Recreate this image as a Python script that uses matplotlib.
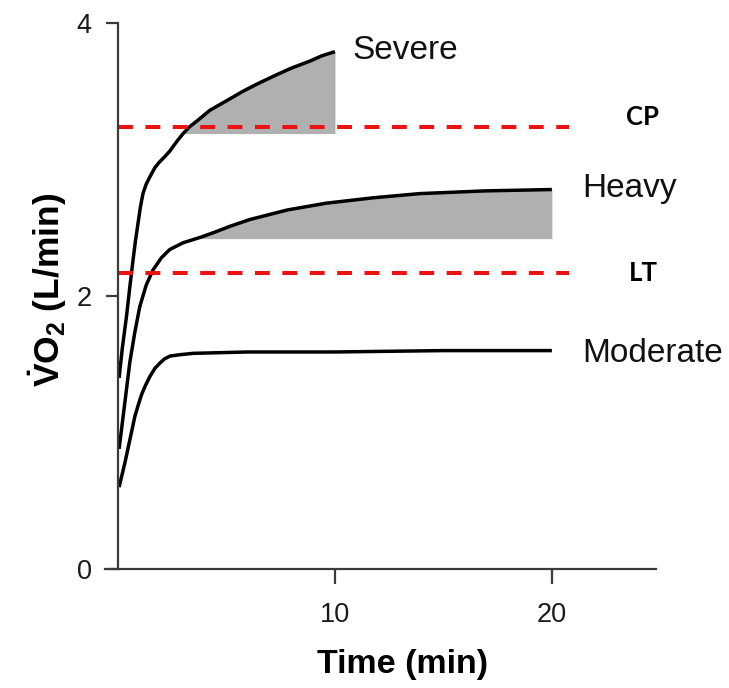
import numpy as np
import matplotlib
matplotlib.use("Agg")
import matplotlib.pyplot as plt

plt.rcParams['font.family'] = ['Liberation Sans', 'DejaVu Sans']
plt.rcParams['mathtext.fontset'] = 'custom'
plt.rcParams['mathtext.rm'] = 'Liberation Sans'
plt.rcParams['mathtext.bf'] = 'Liberation Sans:bold'

# VO2 responses (L/min) vs time (min) for the three intensity domains
moderate_t = [0.05, 0.2, 0.32, 0.55, 0.78, 0.93, 1.09, 1.28, 1.47, 1.7, 1.94, 2.15, 2.40,
              2.86, 3.47, 6.0, 10.0, 15.0, 20.0]
moderate_v = [0.60, 0.70, 0.78, 0.95, 1.12, 1.20, 1.28, 1.35, 1.41, 1.47, 1.51, 1.54, 1.56,
              1.57, 1.58, 1.59, 1.59, 1.60, 1.60]

heavy_t = [0.05, 0.3, 0.54, 0.77, 1.00, 1.3, 1.61, 2.0, 2.38, 3.00, 3.80, 4.5, 5.15, 6.07,
           7.80, 9.60, 11.8, 13.9, 16.9, 20.0]
heavy_v = [0.88, 1.20, 1.51, 1.73, 1.92, 2.08, 2.19, 2.28, 2.34, 2.39, 2.43, 2.47, 2.51, 2.56,
           2.63, 2.68, 2.72, 2.75, 2.77, 2.78]

severe_t = [0.05, 0.2, 0.39, 0.54, 0.69, 0.8, 0.92, 1.03, 1.15, 1.3, 1.46, 1.7, 1.90, 2.15,
            2.38, 2.7, 3.00, 3.30, 3.7, 4.23, 5.0, 5.76, 6.5, 7.30, 8.0, 8.83, 9.4, 10.0]
severe_v = [1.40, 1.62, 1.85, 2.06, 2.26, 2.40, 2.53, 2.65, 2.75, 2.82, 2.87, 2.94, 2.98, 3.02,
            3.06, 3.13, 3.19, 3.24, 3.29, 3.36, 3.43, 3.50, 3.56, 3.62, 3.67, 3.72, 3.76, 3.79]

# slow component shading: starts where curve reaches the base value
heavy_base = 2.42
heavy_start = 3.8
severe_base = 3.19
severe_start = 3.0

# thresholds
lt = 2.17
cp = 3.24
thresh_end = 20.8

fig = plt.figure(figsize=(7.29, 6.88), dpi=100)
ax = fig.add_axes([105 / 729, 1 - 569 / 688, 551 / 729, 546 / 688])

ht = np.array(heavy_t)
hv = np.array(heavy_v)
st = np.array(severe_t)
sv = np.array(severe_v)
ax.fill_between(ht[ht >= heavy_start], heavy_base, hv[ht >= heavy_start], color='#b0b0b0', lw=0)
ax.fill_between(st[st >= severe_start], severe_base, sv[st >= severe_start], color='#b0b0b0', lw=0)

for t, v in [(moderate_t, moderate_v), (heavy_t, heavy_v), (severe_t, severe_v)]:
    ax.plot(t, v, color='black', lw=2.5, solid_capstyle='butt', solid_joinstyle='round')

for y in (lt, cp):
    ax.plot([0, thresh_end], [y, y], color='#ee1111', lw=2.9,
            linestyle=(0, (3.7, 3.1)), dash_capstyle='butt')

ax.text(10.8, 3.80, 'Severe', fontsize=24, va='center', ha='left', color='#111111')
ax.text(21.4, 2.79, 'Heavy', fontsize=24, va='center', ha='left', color='#111111')
ax.text(21.4, 1.58, 'Moderate', fontsize=24, va='center', ha='left', color='#111111')
ax.text(24.2, 3.31, 'CP', fontsize=18.5, fontweight='bold', family=['Lato', 'DejaVu Sans'],
        va='center', ha='center')
ax.text(24.2, 2.17, 'LT', fontsize=18.5, fontweight='bold', family=['Lato', 'DejaVu Sans'],
        va='center', ha='center')

ax.set_xlim(-0.6, 24.8)
ax.set_ylim(0, 4)
ax.spines['left'].set_position(('data', 0))
ax.spines['top'].set_visible(False)
ax.spines['right'].set_visible(False)
for s in ('left', 'bottom'):
    ax.spines[s].set_color('#3a3a3a')
    ax.spines[s].set_linewidth(1.6)

ax.set_xticks([10, 20])
ax.set_yticks([0, 2, 4])
ax.tick_params(axis='both', direction='out', width=1.6, color='#3a3a3a',
               labelsize=19.5, labelcolor='#1a1a1a')
ax.tick_params(axis='y', length=9, pad=10)
ax.tick_params(axis='x', length=11, pad=13)

fig.text(403 / 729, 1 - 665 / 688, 'Time (min)', fontsize=24.5, fontweight='bold',
         ha='center', va='center')
fig.text(48 / 729, 1 - 290 / 688, r'$\mathbf{\dot{V}O_2}$ (L/min)', fontsize=25.5,
         fontweight='bold', rotation=90, ha='center', va='center')

fig.savefig('out.png', dpi=100)
